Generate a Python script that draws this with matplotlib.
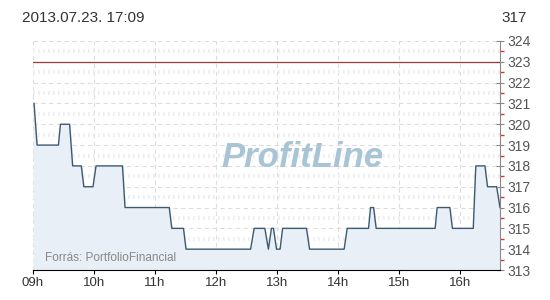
import numpy as np
import matplotlib.pyplot as plt
from matplotlib.ticker import MultipleLocator

plt.rcParams['font.family'] = ['Liberation Sans', 'DejaVu Sans']

# Intraday trace (minutes after 09:00, price)
minutes = [1, 4, 25, 27, 36, 39, 47.5, 50, 59, 62, 88, 90.5, 134, 136.5,
           148, 150.5, 214, 217.5, 228, 231.5, 234.5, 236.5, 239.5, 243,
           245.5, 269, 272, 306, 309, 330, 332, 335, 337.5, 395.5, 397.5,
           410, 412.5, 433, 435.5, 444.5, 447, 456, 459.3]
prices = [321, 319, 319, 320, 320, 318, 318, 317, 317, 318, 318, 316, 316, 315,
          315, 314, 314, 315, 315, 314, 315, 315, 314, 314,
          315, 315, 314, 314, 315, 315, 316, 316, 315, 315, 316,
          316, 315, 315, 318, 318, 317, 317, 316]
prev_close = 323
hour_labels = ['09h', '10h', '11h', '12h', '13h', '14h', '15h', '16h']
title_text = '2013.07.23. 17:09'
last_text = '317'

fig = plt.figure(figsize=(5.5, 3), dpi=100)
ax = fig.add_axes([33 / 550, 30 / 300, 467 / 550, 229 / 300])

x = np.array(minutes)
y = np.array(prices)
ax.fill_between(x, y, 313, color='#e8eff7', zorder=1)
ax.plot(x, y, color='#3d5a70', lw=1.0, zorder=3)
ax.axhline(prev_close, color='#9b3a3a', lw=0.9, zorder=2)

ax.set_xlim(0, 459.3)
ax.set_ylim(313, 324)
ax.set_xticks(np.arange(len(hour_labels)) * 60)
ax.set_xticklabels(hour_labels)
ax.yaxis.set_major_locator(MultipleLocator(1))
ax.yaxis.set_minor_locator(MultipleLocator(0.5))
ax.yaxis.tick_right()

# grids
ax.grid(True, which='major', axis='both', color='#dddddd', lw=0.8,
        linestyle=(0, (4, 3)), zorder=0)
ax.grid(True, which='minor', axis='y', color='#eeeeee', lw=3,
        linestyle=(0, (0.4, 0.8)), zorder=0)
ax.set_axisbelow(True)

for s in ['top', 'left']:
    ax.spines[s].set_visible(False)
ax.spines['bottom'].set_color('black')
ax.spines['right'].set_color('#888888')

ax.tick_params(axis='x', which='major', length=3, color='black',
               labelsize=9.5, labelcolor='#333333', pad=2)
ax.tick_params(axis='y', which='major', direction='inout', length=6,
               color='#888888', labelsize=10, labelcolor='#555555', pad=2)
ax.tick_params(axis='y', which='minor', direction='out', length=3,
               color='#e03030', width=1)

ax.text(0.577, 0.49, 'ProfitLine', transform=ax.transAxes, ha='center',
        va='center', fontsize=25, fontweight='bold', style='italic',
        color='#a9c5d5', zorder=1.5)
ax.text(12, 313.45, 'Forrás: PortfolioFinancial', fontsize=8.5,
        color='#888888', zorder=4)

fig.text(22 / 550, 1 - 18 / 300, title_text, fontsize=11, color='#333333',
         va='center', ha='left')
fig.text(527 / 550, 1 - 18 / 300, last_text, fontsize=11, color='#333333',
         va='center', ha='right')

plt.savefig('out.png', dpi=100)
